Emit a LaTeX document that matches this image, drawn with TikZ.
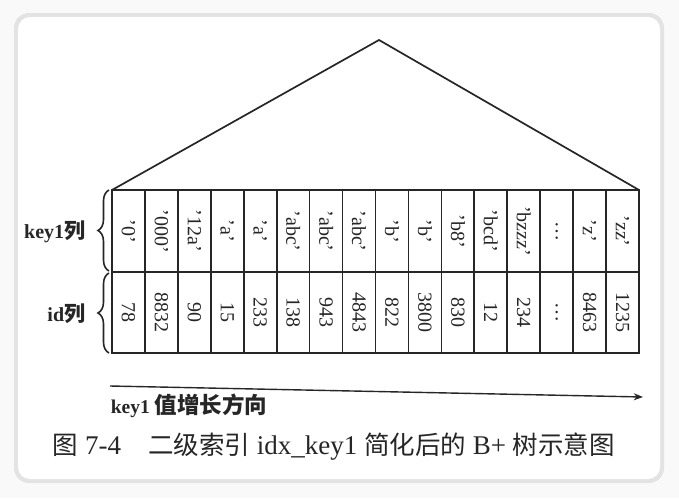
\documentclass[tikz,border=0pt]{standalone}
\usepackage{fontspec}
\setmainfont{Liberation Serif}
\newfontfamily\cjk{Noto Sans CJK SC}
\usetikzlibrary{arrows.meta, positioning, calc, decorations.pathreplacing}
\definecolor{ink}{HTML}{262626}

\begin{document}
\begin{tikzpicture}[x=1pt, y=-1pt, >=Stealth, line width=1.7pt,
    cell/.style={draw=ink, rotate=-90, minimum width=82pt, minimum height=32.94pt,
        inner sep=0pt, text=ink, font=\fontsize{20}{20}\selectfont},
    lbl/.style={text=ink, inner sep=0pt, font=\fontsize{20}{20}\selectfont\bfseries},
    curly/.style={draw=ink, line width=1.6pt, decorate, decoration={brace, amplitude=11pt}}]
    % Rahmen
    \fill[gray!5] (0,0) rectangle (679,498);
    \fill[gray!22, rounded corners=15pt] (14,13) rectangle (664,483);
    \fill[white, rounded corners=12pt] (18,17) rectangle (660,479);

    % Dach des Baums
    \coordinate (apex) at (379,40);
    \coordinate (roofL) at (112,190);
    \coordinate (roofR) at (639,190);
    \draw[ink] (roofL) -- (apex) -- (roofR);

    % Blattknoten: key1 und id
    \foreach \k/\v [count=\i from 0] in {'0'/78, '000'/8832, '12a'/90, 'a'/15, 'a'/233,
        'abc'/138, 'abc'/943, 'abc'/4843, 'b'/822, 'b'/3800, 'b8'/830, 'bcd'/12,
        'bzzz'/234, \ldots/\ldots, 'z'/8463, 'zz'/1235}{
        \node[cell] (k\i) at ({112+32.94*(\i+0.5)}, 231) {\k};
        \node[cell, minimum width=81pt] (v\i) at ({112+32.94*(\i+0.5)}, 312.5) {\v};
    }

    % Klammern und Spaltennamen
    \coordinate (keyT) at (109,190);
    \coordinate (keyB) at (109,271);
    \coordinate (idT) at (109,273);
    \coordinate (idB) at (109,353);
    \draw[curly] (keyB) -- (keyT);
    \draw[curly] (idB) -- (idT);
    \node[lbl, anchor=east] (keylbl) at (86,232) {key1{\cjk\fontsize{21}{21}\selectfont 列}};
    \node[lbl, anchor=east] (idlbl) at (86,314) {id{\cjk\fontsize{21}{21}\selectfont 列}};

    % Richtungspfeil
    \coordinate (arrS) at (110,386);
    \coordinate (arrE) at (643,397);
    \draw[ink, line width=1.4pt, ->] (arrS) -- (arrE);
    \node[lbl, anchor=west, font=\fontsize{19.5}{19.5}\selectfont\bfseries] (dirlbl) at (110,406)
        {key1 {\cjk\fontsize{22.5}{22.5}\selectfont 值增长方向}};

    % Bildunterschrift
    \node[text=ink, inner sep=0pt, anchor=west, font=\fontsize{27}{27}\selectfont] (cap) at (52,447)
        {{\cjk\fontsize{25.5}{25.5}\selectfont 图} 7-4\quad{\cjk\fontsize{25.5}{25.5}\selectfont 二级索引}
        idx\_key1 {\cjk\fontsize{25.5}{25.5}\selectfont 简化后的} B+
        {\cjk\fontsize{25.5}{25.5}\selectfont 树示意图}};
\end{tikzpicture}
\end{document}
